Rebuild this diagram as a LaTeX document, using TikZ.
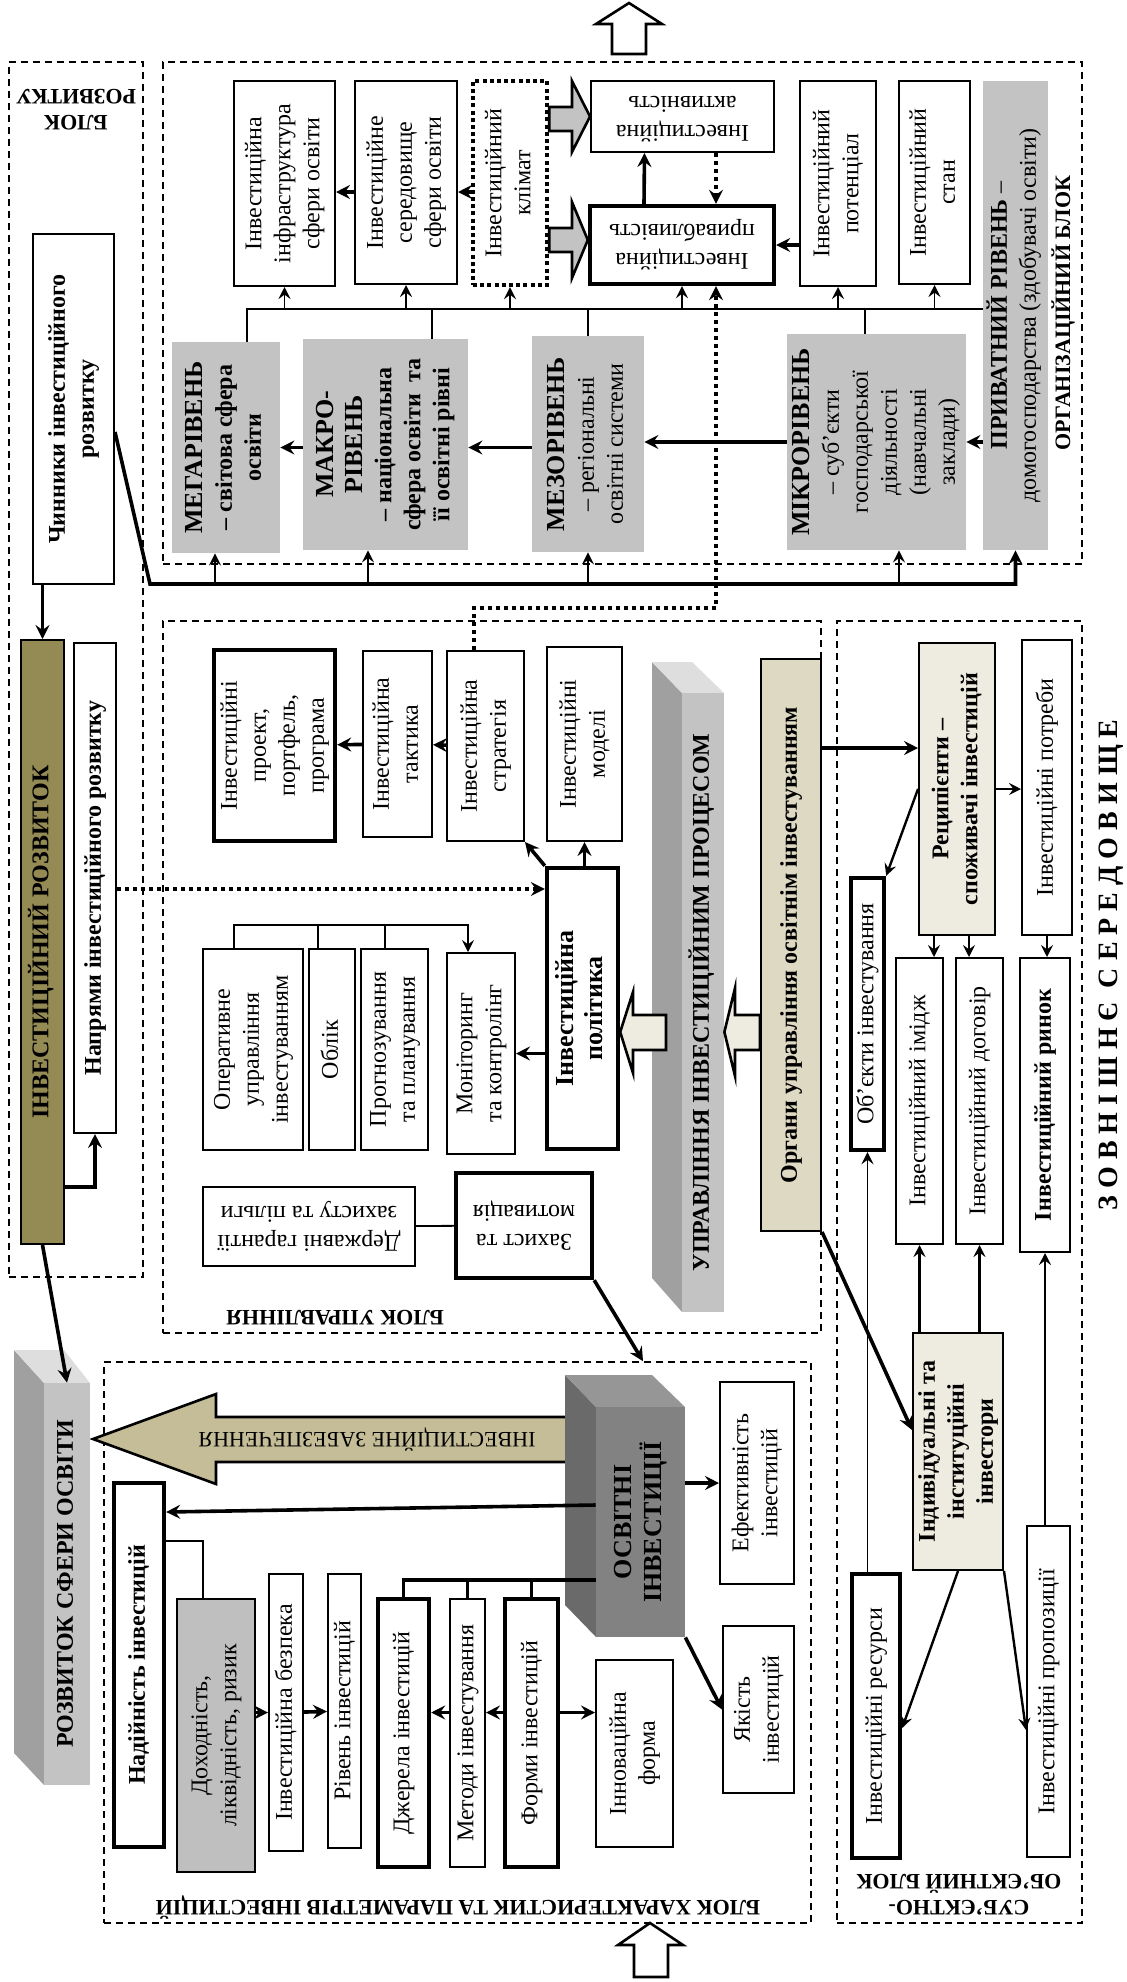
\documentclass[tikz,border=0pt]{standalone}
\usepackage{fontspec}
\setmainfont{Liberation Serif}
\usepackage{graphicx}
\usepackage{xcolor}
\definecolor{lvlgray}{RGB}{195,195,195}
\definecolor{dokhgray}{RGB}{191,191,191}
\definecolor{rozvolive}{RGB}{148,138,84}
\definecolor{zabtan}{RGB}{196,189,151}
\definecolor{organbeige}{RGB}{221,217,195}
\definecolor{lightbeige}{RGB}{238,236,225}
\definecolor{barfront}{RGB}{195,195,195}
\definecolor{barside}{RGB}{160,160,160}
\definecolor{bartop}{RGB}{222,222,222}
\definecolor{osvfront}{RGB}{130,130,130}
\definecolor{osvside}{RGB}{106,106,106}
\definecolor{osvtop}{RGB}{150,150,150}
\usepackage{tikz}
\usetikzlibrary{arrows.meta}
\usetikzlibrary{fit}
\newcommand{\vt}[1]{\rotatebox{90}{\begin{tabular}{@{}c@{}}#1\end{tabular}}}
\newcommand{\ut}[1]{\rotatebox{180}{\begin{tabular}{@{}c@{}}#1\end{tabular}}}
\newcommand{\hd}[1]{{\fontsize{13}{15}\selectfont\bfseries #1}}
\tikzset{
    txt/.style={font=\fontsize{12}{14.5}\selectfont},
    btxt/.style={font=\fontsize{12}{14.5}\selectfont\bfseries},
    lbl/.style={font=\fontsize{11}{13}\selectfont\bfseries, inner sep=0pt, align=center},
    cell/.style args={#1/#2/#3/#4}{at={({(#1+#3)/2},{(#2+#4)/2})}, minimum width={(#3-#1)*0.5pt}, minimum height={(#4-#2)*0.5pt}},
    block/.style={draw, line width=0.8pt, dash pattern=on 3.5pt off 2.5pt, inner sep=0pt},
    box/.style={draw, line width=1pt, fill=white, inner sep=0pt, txt},
    tbox/.style={box, line width=2.2pt},
    dotbox/.style={box, line width=2.2pt, dash pattern=on 2pt off 1.6pt},
    lvl/.style={fill=lvlgray, inner sep=0pt, txt},
    conn/.style={line width=0.9pt},
    tline/.style={line width=1.8pt},
    arr/.style={tline, -{Stealth[length=7pt, width=7pt, inset=2.5pt]}},
    tarr/.style={conn, -{Stealth[length=6pt, width=6pt, inset=2.2pt]}},
    marr/.style={line width=1.2pt, -{Stealth[length=6pt, width=6pt, inset=2.2pt]}},
    dotarr/.style={line width=2pt, dash pattern=on 2pt off 2pt, -{Stealth[length=7pt, width=7pt, inset=2.5pt]}},
    fat/.style={draw, line width=1.3pt, line join=miter},
}
\begin{document}
\begin{tikzpicture}[x=0.5pt, y=-0.5pt]
\useasboundingbox (0,0) rectangle (1127,1982);

\node[block, fit={(9,62) (143,1277)}] (rozvblk) {};
\node[block, fit={(163,62) (1082,564)}] (orgblk) {};
\node[block, fit={(163,621) (821,1333)}] (uprblk) {};
\node[block, fit={(104,1362) (811,1923)}] (charblk) {};
\node[block, fit={(837,621) (1082,1923)}] (subblk) {};

\node[lbl, rotate=180] (rozvlbl) at (76,110) {БЛОК\\РОЗВИТКУ};
\node[lbl, rotate=90] (orglbl) at (1063,313) {ОРГАНІЗАЦІЙНИЙ БЛОК};
\node[lbl, rotate=180] (uprlbl) at (335,1318) {БЛОК УПРАВЛІННЯ};
\node[lbl, rotate=180] (charlbl) at (458,1907) {БЛОК ХАРАКТЕРИСТИК ТА ПАРАМЕТРІВ ІНВЕСТИЦІЙ};
\node[lbl, rotate=180] (sublbl) at (959,1895) {СУБ’ЄКТНО-\\ОБ’ЄКТНИЙ БЛОК};
\node[font=\fontsize{14}{16}\selectfont\bfseries\addfontfeature{LetterSpace=25}, rotate=90, inner sep=0pt] (zovn) at (1111,965) {ЗОВНІШНЄ СЕРЕДОВИЩЕ};

\draw[fat, fill=white] (612,54) -- (612,24) -- (596,24) -- (629,3) -- (662,24) -- (646,24) -- (646,54) -- cycle;
\draw[fat, fill=white] (634,1977) -- (634,1945) -- (618,1945) -- (650,1923) -- (683,1945) -- (668,1945) -- (668,1977) -- cycle;

\node[box, btxt, cell=33/234/114/584] (chyn) {\vt{Чинники інвестиційного\\розвитку}};
\node[box, btxt, fill=rozvolive, cell=21/640/64/1244] (rozv) {\vt{ІНВЕСТИЦІЙНИЙ РОЗВИТОК}};
\node[box, btxt, cell=74/643/116/1133] (napr) {\vt{Напрями інвестиційного розвитку}};

\node[box, cell=234/81/335/286] (infra) {\vt{Інвестиційна\\інфраструктура\\сфери освіти}};
\node[box, cell=355/81/457/284] (sered) {\vt{Інвестиційне\\середовище\\сфери освіти}};
\node[dotbox, cell=473/81/547/285] (klimat) {\vt{Інвестиційний\\клімат}};
\node[box, cell=591/81/774/152] (aktyv) {\ut{Інвестиційна\\активність}};
\node[tbox, cell=590/206/774/284] (pryvab) {\ut{Інвестиційна\\привабливість}};
\node[box, cell=800/81/876/286] (potents) {\vt{Інвестиційний\\потенціал}};
\node[box, cell=899/81/970/284] (stan) {\vt{Інвестиційний\\стан}};
\node[lvl, cell=983/81/1048/550] (pryvat) {\vt{\textbf{ПРИВАТНИЙ РІВЕНЬ} –\\домогосподарства (здобувачі освіти)}};
\node[lvl, btxt, cell=172/342/280/553] (mega) {\vt{\hd{МЕГАРІВЕНЬ}\\– світова сфера\\освіти}};
\node[lvl, btxt, cell=303/339/468/550] (makro) {\vt{\hd{МАКРО-}\\\hd{РІВЕНЬ}\\– національна\\сфера освіти\ \ та\\її освітні рівні}};
\node[lvl, cell=532/336/644/552] (meso) {\vt{\hd{МЕЗОРІВЕНЬ}\\– регіональні\\освітні системи}};
\node[lvl, cell=787/334/966/550] (mikro) {\vt{\hd{МІКРОРІВЕНЬ}\\– суб’єкти\\господарської\\діяльності\\(навчальні\\заклади)}};

\draw[fat, fill=lvlgray] (klimat.east |- 0,107) -- (572,107) -- (572,81) -- (aktyv.west) -- (572,152) -- (572,131) -- (klimat.east |- 0,131) -- cycle;
\draw[fat, fill=lvlgray] (klimat.east |- 0,228) -- (572,228) -- (572,202) -- (pryvab.west |- 0,240) -- (572,278) -- (572,252) -- (klimat.east |- 0,252) -- cycle;

\node[tbox, cell=214/650/335/841] (proekt) {\vt{Інвестиційні\\проект,\\портфель,\\програма}};
\node[box, cell=363/651/432/837] (taktyka) {\vt{Інвестиційна\\тактика}};
\node[box, cell=447/651/524/841] (strat) {\vt{Інвестиційна\\стратегія}};
\node[box, cell=547/647/622/841] (model) {\vt{Інвестиційні\\моделі}};
\node[tbox, btxt, cell=547/868/618/1149] (polit) {\vt{\hd{Інвестиційна}\\\hd{політика}}};
\node[box, cell=203/949/303/1150] (operat) {\vt{Оперативне\\управління\\інвестуванням}};
\node[box, cell=309/949/355/1150] (oblik) {\vt{Облік}};
\node[box, cell=361/949/428/1150] (prohn) {\vt{Прогнозування\\та планування}};
\node[box, cell=447/953/515/1154] (monit) {\vt{Моніторинг\\та контролінг}};
\node[box, cell=203/1187/415/1266] (derzh) {\ut{Державні гарантії\\захисту та пільги}};
\node[tbox, cell=456/1173/592/1278] (zakh) {\ut{Захист та\\мотивація}};
\node[box, btxt, fill=organbeige, cell=761/659/821/1231] (organ) {\vt{Органи управління освітнім інвестуванням}};

\fill[barside] (652,662) -- (682,693) -- (682,1312) -- (652,1278) -- cycle;
\fill[bartop] (652,662) -- (692,662) -- (724,693) -- (682,693) -- cycle;
\node[lvl, btxt, fill=barfront, cell=682/693/724/1312] (upr) {\vt{УПРАВЛІННЯ ІНВЕСТИЦІЙНИМ ПРОЦЕСОМ}};

\draw[fat, fill=lightbeige] (666,1015) -- (633,1015) -- (633,992) -- (polit.east |- 0,1032) -- (633,1073) -- (633,1050) -- (666,1050) -- cycle;
\draw[fat, fill=lightbeige] (organ.west |- 0,1015) -- (735,1015) -- (735,988) -- (upr.east |- 0,1032) -- (735,1076) -- (735,1050) -- (organ.west |- 0,1050) -- cycle;

\draw[fat, fill=zabtan] (585,1417) -- (216,1417) -- (216,1394) -- (93,1439) -- (216,1484) -- (216,1462) -- (585,1462) -- cycle;
\node[font=\fontsize{11}{13}\selectfont, rotate=180] (zabezp) at (367,1439) {ІНВЕСТИЦІЙНЕ ЗАБЕЗПЕЧЕННЯ};

\fill[barside] (14,1350) -- (44,1383) -- (44,1785) -- (14,1753) -- cycle;
\fill[bartop] (14,1350) -- (64,1350) -- (90,1383) -- (44,1383) -- cycle;
\node[lvl, btxt, fill=barfront, cell=44/1383/90/1785] (sfera) {\vt{РОЗВИТОК СФЕРИ ОСВІТИ}};

\fill[osvside] (565,1375) -- (596,1407) -- (596,1637) -- (565,1605) -- cycle;
\fill[osvtop] (565,1375) -- (652,1375) -- (685,1407) -- (596,1407) -- cycle;
\node[lvl, fill=osvfront, font=\fontsize{13}{14}\selectfont\bfseries, cell=596/1407/685/1637] (osv) {\vt{ОСВІТНІ\\ІНВЕСТИЦІЇ}};

\node[tbox, btxt, cell=114/1483/164/1847] (nadiin) {\vt{Надійність інвестицій}};
\node[box, fill=dokhgray, cell=177/1599/255/1872] (dokh) {\vt{Доходність,\\ліквідність, ризик}};
\node[box, cell=269/1574/303/1851] (bezp) {\vt{Інвестиційна безпека}};
\node[box, cell=328/1574/361/1848] (riven) {\vt{Рівень інвестицій}};
\node[tbox, cell=378/1599/429/1867] (dzher) {\vt{Джерела інвестицій}};
\node[box, cell=450/1599/485/1867] (metod) {\vt{Методи інвестування}};
\node[tbox, cell=505/1599/558/1867] (form) {\vt{Форми інвестицій}};
\node[box, cell=596/1660/673/1847] (innov) {\vt{Інноваційна\\форма}};
\node[box, cell=720/1382/794/1584] (efekt) {\vt{Ефективність\\інвестицій}};
\node[box, cell=723/1626/794/1793] (yakist) {\vt{Якість\\інвестицій}};

\node[box, btxt, fill=lightbeige, cell=919/643/995/935] (rec) {\vt{Реципієнти –\\споживачі інвестицій}};
\node[box, cell=1022/640/1072/935] (potreb) {\vt{Інвестиційні потреби}};
\node[tbox, cell=851/878/884/1150] (obj) {\vt{Об’єкти інвестування}};
\node[box, cell=896/958/943/1244] (imidzh) {\vt{Інвестиційний імідж}};
\node[box, cell=956/958/1003/1244] (dohovir) {\vt{Інвестиційний договір}};
\node[box, btxt, cell=1020/958/1070/1252] (rynok) {\vt{Інвестиційний ринок}};
\node[box, btxt, fill=lightbeige, cell=913/1333/1003/1570] (invest) {\vt{Індивідуальні та\\інституційні\\інвестори}};
\node[tbox, cell=852/1574/900/1858] (resurs) {\vt{Інвестиційні ресурси}};
\node[box, cell=1027/1526/1070/1857] (propoz) {\vt{Інвестиційні пропозиції}};

\coordinate (topbus) at (0,309);
\coordinate (lowbus) at (0,584);
\coordinate (dotlvl) at (0,608);
\coordinate (lowbend) at (150,584);
\coordinate (megatop) at ([xshift=10.5pt]mega.north);
\coordinate (makrotop) at ([xshift=23.25pt]makro.north);
\coordinate (mikrotop) at ([xshift=-5.75pt]mikro.north);
\coordinate (megabot) at ([xshift=-5.5pt]mega.south);
\coordinate (makrobot) at ([xshift=-8.75pt]makro.south);
\coordinate (mikrobot) at ([xshift=11.25pt]mikro.south);
\coordinate (stratdot) at ([xshift=-5.75pt]strat.north);
\coordinate (pryvdot) at ([xshift=17pt]pryvab.south);

\draw[arr] (klimat.west |- 0,192) -- (sered.east |- 0,192);
\draw[arr] (sered.west |- 0,192) -- (infra.east |- 0,192);
\draw[arr] ([xshift=-19pt]pryvab.north) -- ([xshift=-19pt]aktyv.south);
\draw[dotarr] (aktyv.south -| pryvdot) -- (pryvab.north -| pryvdot);
\draw[arr] (potents.west |- pryvab.east) -- (pryvab.east);

\draw[conn] (pryvat.west |- topbus) -- (megatop |- topbus) -- (megatop);
\draw[conn] (makrotop |- topbus) -- (makrotop);
\draw[conn] (meso.north |- topbus) -- (meso.north);
\draw[conn] (mikrotop |- topbus) -- (mikrotop);
\draw[tarr] (infra.south |- topbus) -- (infra.south);
\draw[tarr] (sered.south |- topbus) -- (sered.south);
\draw[tarr] (klimat.south |- topbus) -- (klimat.south);
\draw[tarr] (pryvab.south |- topbus) -- (pryvab.south);
\draw[tarr] (potents.south |- topbus) -- (potents.south);
\draw[tarr] (stan.south |- topbus) -- (stan.south);

\draw[arr] (makro.west |- mega) -- (mega.east);
\draw[arr] (meso.west |- mega) -- (makro.east |- mega);
\draw[arr] (mikro.west) -- (mikro.west -| meso.east);
\draw[arr] (pryvat.west |- mikro) -- (mikro.east);

\draw[arr] (chyn.east |- 0,432) -- (lowbend) -| (pryvat.south);
\draw[marr] (megabot |- lowbus) -- (megabot);
\draw[marr] (makrobot |- lowbus) -- (makrobot);
\draw[marr] (meso.south |- lowbus) -- (meso.south);
\draw[marr] (mikrobot |- lowbus) -- (mikrobot);

\draw[dotarr] (stratdot) -- (stratdot |- dotlvl) -- (pryvdot |- dotlvl) -- (pryvdot);

\draw[arr] (chyn.south -| rozv.north) -- (rozv.north);
\draw[arr] (rozv.east |- 0,1187) -| (napr.south);
\draw[arr] (rozv.south) -- (sfera.north);
\draw[dotarr] (napr.east |- 0,889) -- (polit.west |- 0,889);

\draw[arr] (strat) -- (taktyka);
\draw[arr] (taktyka) -- (proekt);
\draw[arr] (polit.north west) -- (strat.south east);
\draw[arr] (polit.north -| model) -- (model.south);
\draw[arr] (polit.west |- monit) -- (monit.east);
\draw[tarr] ([xshift=-9.5pt]operat.north) -- ++(0,-23) -| ([xshift=-6.5pt]monit.north);
\draw[conn] ([xshift=-7pt]oblik.north) -- ++(0,-23);
\draw[conn] ([xshift=-4.75pt]prohn.north) -- ++(0,-23);
\draw[conn] (derzh) -- (zakh);
\draw[arr] (zakh.south east) -- (charblk.north -| 643,0);
\draw[arr] (organ.east |- 0,748) -- (rec.west |- 0,748);
\draw[arr] (organ.south east) -- (invest.west |- 0,1430);

\draw[arr] (osv.west |- 0,1505) -- (nadiin.east |- 0,1512);
\draw[conn] (nadiin.east |- 0,1541) -| ([xshift=-6.5pt]dokh.north);
\draw[arr] (dokh.east |- bezp) -- (bezp.west);
\draw[arr] (bezp) -- (riven);
\draw[tline] (osv.west |- 0,1580) -| (dzher.north);
\draw[tline] (metod.north) -- (metod.north |- 0,1580);
\draw[tline] (form.north) -- (form.north |- 0,1580);
\draw[arr] (metod.west |- bezp) -- (dzher.east |- bezp);
\draw[arr] (form.west |- bezp) -- (metod.east |- bezp);
\draw[arr] (form.east |- bezp) -- (innov.west |- bezp);
\draw[arr] (osv.east |- efekt) -- (efekt.west);
\draw[arr] (osv.south east) -- (yakist.west);

\draw[marr] (rec.east) -- (rec.east -| potreb.west);
\draw[marr] (rec.west) -- (obj.north east);
\draw[marr] ([xshift=-11.5pt]rec.south) -- ([xshift=-11.5pt]rec.south |- imidzh.north);
\draw[marr] ([xshift=6pt]rec.south) -- ([xshift=6pt]rec.south |- dohovir.north);
\draw[marr] (potreb.south) -- (potreb.south |- rynok.north);
\draw[marr] (imidzh.south |- invest.north) -- (imidzh.south);
\draw[marr] (dohovir.south |- invest.north) -- (dohovir.south);
\draw[tarr] (obj.south |- resurs.north) -- (obj.south);
\draw[tarr] (rynok.south |- propoz.north) -- (rynok.south);
\draw[marr] (invest.south) -- (resurs.east |- 0,1728);
\draw[marr] (invest.south east) -- (propoz.west |- 0,1730);
\end{tikzpicture}
\end{document}
